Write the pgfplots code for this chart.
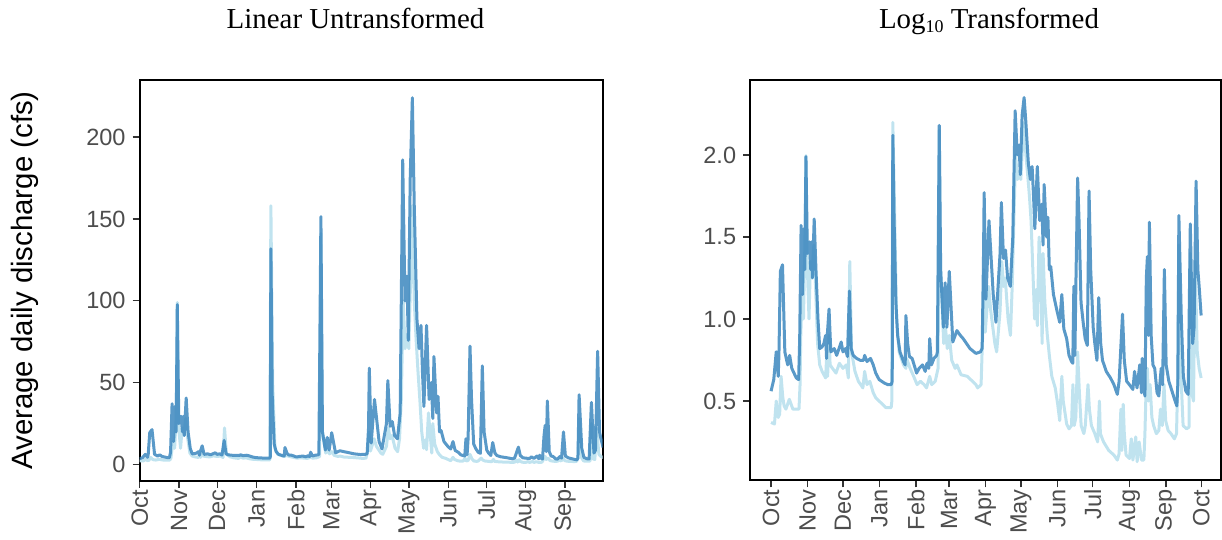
\documentclass[border=0pt]{standalone}
\usepackage{pgfplots}
\usepackage{pgfplotstable}
\pgfplotsset{compat=1.18}
\usepackage{fontspec}
\setmainfont{Liberation Sans}
\newfontfamily\titlefont{Liberation Serif}
\definecolor{darkblue}{RGB}{60,135,190}
\definecolor{lightblue}{RGB}{192,227,239}
\definecolor{tickgray}{RGB}{77,77,77}
\definecolor{tickmark}{RGB}{51,51,51}

\pgfplotstableread{
day q
0 3.63
2.3 4.27
4.4 6.31
6.1 4.47
6.7 6.17
7.9 19.5
9.7 21.4
11.7 6.3
14.1 5.25
15.8 6.0
17.6 5.0
21.4 4.37
23.4 4.27
24.3 7.6
25.5 37.2
26.7 14.1
27.8 35.5
28.7 20
29.6 97.7
30.8 25.1
32.5 29.5
33.7 20
34.3 29.5
35.1 17.8
36.6 40.7
38.1 20
39.8 10
41.3 6.6
43.3 6.76
44.8 7.08
46.3 7.94
47.1 5.75
47.7 7.94
49.2 11.5
50.7 6.3
53.6 6.6
55.7 6.0
59.5 7.24
61.0 6.3
63.0 6.6
64.8 5.9
66.5 14.8
68.0 6.6
69.7 6.0
72.6 5.75
75.6 5.6
78.5 5.6
79.4 6.0
81.4 5.5
84.4 5.75
86.7 5.25
88.8 4.68
91.7 4.27
96.1 4.07
99.0 3.98
101.9 3.98
102.8 4.17
103.3 131.8
104.4 39.8
105.9 12.6
107.4 7.94
109.4 6.3
112.4 5.5
113.8 5.25
114.4 10.5
115.9 7.08
117.4 5.9
119.7 5.75
123.5 4.68
125.6 5.0
128.5 5.25
130.8 4.79
132.3 5.37
133.8 5.0
134.6 7.59
136.1 5.25
138.2 5.75
140.5 6.0
141.1 6.3
142.7 151.4
143.9 20
146.2 8.9
147.7 16.6
149.2 8.9
151.2 19.5
154.2 7.24
157.7 8.5
160.6 7.94
163.0 7.59
168.8 6.6
173.8 6.17
177.6 6.3
179.1 6.6
180.2 22.4
180.8 58.9
182.3 13.2
184.9 39.8
188.5 14.1
190.8 9.55
194.3 25.1
195.4 51.3
197.2 23.4
198.9 26.3
200.7 17.8
203.0 15.8
205.1 31.6
207.1 186
208.9 100
210.4 115
211.5 75.9
213.0 174
214.7 224
216.2 158
218.3 89
220.0 70.8
221.5 85
222.7 56
223.8 35.5
225.9 85
227.9 39.8
229.7 50.1
230.8 28.2
231.7 66
233.8 31.6
234.9 41.7
236.1 20
237.3 20.9
239.6 14.1
242.6 11.2
244.9 9.55
246.7 14.1
248.4 8.7
250.8 7.59
252.8 6.0
254.9 5.5
256.0 5.37
256.9 15.8
257.8 6.0
258.6 15.8
260.1 72.4
261.3 39.8
263.0 12.6
264.8 9.55
266.5 7.59
268.3 6.9
269.8 60.3
271.2 20
273.3 8.9
274.7 7.08
276.5 5.6
278.0 13.5
279.7 7.08
281.2 5.6
284.4 4.79
288.0 4.37
290.9 3.98
293.8 3.47
295.3 4.17
298.2 10.7
299.7 5.6
301.7 4.17
304.0 3.98
307.0 3.72
308.4 4.79
310.5 3.8
312.8 5.25
314.3 3.55
314.9 5.75
316.3 3.8
317.2 3.39
318.4 17.8
319.3 24
320.2 7.94
321.0 38.9
322.5 7.94
324.0 5.25
325.5 5.0
327.5 3.55
329.0 3.39
331.0 5.0
332.2 3.98
333.7 20
335.2 5.25
337.5 4.17
339.3 3.8
342.8 3.16
344.3 2.95
345.1 3.98
346.0 42.7
348.1 10
349.8 4.47
351.9 3.63
353.9 3.47
355.7 38
357.7 7.08
358.9 8.9
360.6 69.2
362.1 20
363.2 15.8
364.9 10.5
}\darkdata

\pgfplotstableread{
day q
0 2.34
2.9 2.29
4.4 3.16
6.1 2.51
7.3 2.63
8.5 4.47
10.0 3.31
11.1 2.95
12.6 2.82
15.5 3.24
18.5 2.82
23.7 2.82
24.6 3.98
25.2 7.94
26.4 14.1
27.5 10
28.7 28.2
29.6 99
30.5 24
32.2 10
33.4 22.4
34.6 17.8
36.3 28.2
37.5 17.8
39.5 7.08
41.3 5.25
43.3 4.79
46.3 4.37
47.1 5.75
48.0 4.47
49.2 7.94
50.1 5.25
52.1 5.0
55.1 4.68
58.0 5.37
61.0 5.0
63.9 5.25
65.6 4.37
66.8 22.4
68.3 6.3
71.2 4.79
74.1 4.17
77.9 3.8
79.4 4.79
81.4 3.98
83.8 4.17
86.7 3.55
88.8 3.31
93.1 3.09
97.5 2.88
101.9 2.88
102.5 3.16
103.3 158
104.7 50.1
106.5 10
108.6 6.3
112.4 5.25
114.4 5.0
115.0 5.75
118.0 5.0
121.0 4.47
123.9 3.98
126.8 4.17
129.8 3.98
131.9 3.8
134.6 4.47
136.3 3.98
139.3 4.17
140.5 4.57
141.7 5.0
142.7 141
143.9 20
146.5 7.08
148.0 8.9
149.5 6.6
151.2 7.94
153.3 5.6
156.2 5.0
157.7 5.25
161.2 4.57
166.5 4.47
170.9 4.17
173.8 3.98
175.3 3.8
178.2 3.98
179.7 8.9
180.5 20
181.7 8.3
184.6 15.8
186.4 11.2
189.9 7.08
191.4 6.3
194.3 11.2
195.8 22.4
197.2 15.8
198.7 17.8
201.1 10
203.1 7.94
204.6 15.8
206.0 39.8
207.5 100
209.0 70.8
210.4 79.4
211.9 70.8
213.3 112
214.7 158
216.2 100
217.7 75.9
219.2 56.2
220.6 39.8
222.1 20
223.6 10
225.0 15.1
225.9 9.1
227.4 31.6
228.8 17.8
230.0 7.08
230.8 25.1
232.3 12.6
234.4 7.94
236.1 6.0
238.2 4.47
241.1 3.8
243.2 3.02
244.9 2.4
246.7 4.47
247.9 3.16
250.8 2.29
252.8 2.14
254.9 2.24
256.1 3.98
257.2 2.24
258.6 2.51
260.1 6.3
261.6 3.55
263.1 2.24
265.4 2.0
266.6 2.24
268.9 3.98
270.1 2.82
271.8 2.24
274.7 2.0
277.1 1.78
278.6 3.16
279.4 2.0
282.1 1.78
286.5 1.58
290.9 1.48
293.8 1.38
295.3 1.51
296.8 2.82
297.6 1.58
298.8 3.02
299.7 2.0
301.2 1.48
304.1 1.41
305.6 1.86
307.0 1.38
309.4 1.91
310.6 1.35
312.3 1.78
314.3 1.38
316.3 1.38
317.2 2.0
318.1 3.55
319.3 5.0
320.2 3.16
321.6 3.98
323.1 2.51
324.6 2.24
326.9 2.0
329.0 2.09
330.4 2.82
331.9 2.24
333.4 3.98
334.8 2.4
336.9 2.09
339.3 2.0
342.2 1.86
344.0 2.0
345.1 4.47
346.0 28.2
348.1 3.98
349.6 2.24
352.5 2.14
354.6 2.19
355.7 25.1
356.9 3.55
358.4 3.16
359.8 22.4
361.6 6.3
363.2 5.0
364.9 4.37
}\lightdata

\pgfplotsset{
  panel/.style={
    scale only axis,
    anchor=south west,
    axis line style={black, line width=1.8bp},
    tick align=outside,
    major tick length=7bp,
    every tick/.style={tickmark, line width=1.3bp},
    xtick pos=bottom, ytick pos=left,
    /pgf/number format/assume math mode=true,
    tick label style={font=\fontsize{23.6}{26}\selectfont, text=tickgray},
    yticklabel style={inner sep=0pt, xshift=-7bp},
    xticklabel style={rotate=90, anchor=east, inner sep=0pt, yshift=0bp, xshift=-2bp},
    clip mode=individual,
  },
  darkline/.style={darkblue, opacity=0.85, line width=3bp, line join=round, mark=none},
  lightline/.style={lightblue, line width=3bp, line join=round, mark=none},
}

\begin{document}
\begin{tikzpicture}
\path[use as bounding box] (0,0) rectangle (1222bp,-540bp);

\begin{axis}[panel,
  at={(139.7bp,-480.7bp)}, width=463bp, height=400.7bp,
  xmin=0, xmax=364.6, ymin=-9.8, ymax=234.8,
  xtick={0,31,61,92,123,151,182,212,243,273,304,335},
  xticklabels={Oct,Nov,Dec,Jan,Feb,Mar,Apr,May,Jun,Jul,Aug,Sep},
  ytick={0,50,100,150,200},
  yticklabels={0,50,100,150,200},
]
\addplot[lightline] table[x=day,y=q]{\lightdata};
\addplot[darkline] table[x=day,y=q]{\darkdata};
\end{axis}

\begin{axis}[panel,
  at={(750.3bp,-480.3bp)}, width=470.4bp, height=400bp,
  xmin=-17.6, xmax=381.5, ymin=0.0165, ymax=2.455,
  xtick={0,31,61,92,123,151,182,212,243,273,304,335,365},
  xticklabels={Oct,Nov,Dec,Jan,Feb,Mar,Apr,May,Jun,Jul,Aug,Sep,Oct},
  ytick={0.5,1,1.5,2},
  yticklabels={0.5,1.0,1.5,2.0},
]
\addplot[lightline] table[x=day,y expr={log10(\thisrow{q})}]{\lightdata};
\addplot[darkline] table[x=day,y expr={log10(\thisrow{q})}]{\darkdata};
\end{axis}

\node[rotate=90, anchor=north, inner sep=0pt, font=\fontsize{29.5}{32}\selectfont] at (11bp,-280.4bp) {Average daily discharge (cfs)};

\node[anchor=base, inner sep=0pt, font=\titlefont\fontsize{29}{31}\selectfont] at (355.5bp,-28.3bp) {Linear Untransformed};
\node[anchor=base, inner sep=0pt, font=\titlefont\fontsize{29}{31}\selectfont] at (989bp,-28.3bp) {Log\raisebox{-4bp}{\fontsize{18}{18}\selectfont 10} Transformed};
\end{tikzpicture}
\end{document}
